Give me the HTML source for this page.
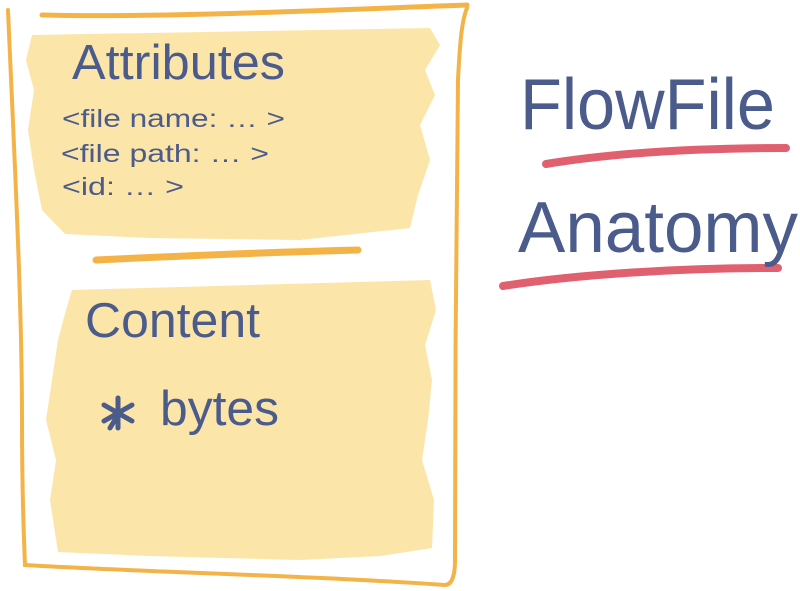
<!DOCTYPE html>
<html><head><meta charset="utf-8"><style>
html,body{margin:0;padding:0;background:#fff;width:800px;height:591px;overflow:hidden}
svg{display:block}
text{font-family:"Liberation Sans",sans-serif;fill:#4a5b8c}
</style></head><body>
<svg width="800" height="591" viewBox="0 0 800 591" xmlns="http://www.w3.org/2000/svg">
<!-- yellow fills -->
<path d="M32,35 L430,28 L440,45 L425,70 L435,95 L420,125 L430,160 L418,195 L410,228 L300,240 L150,238 L65,234 L42,210 L34,170 L28,130 L34,90 L26,60 Z" fill="#fce5a8"/>
<path d="M72,290 L430,280 L436,310 L425,345 L432,380 L428,420 L422,460 L434,500 L432,548 L380,556 L300,560 L150,556 L58,552 L50,500 L56,460 L46,420 L52,380 L58,340 L66,310 Z" fill="#fce5a8"/>
<!-- paper outline -->
<path d="M8,10 C14,150 22,300 22,420 C22,500 24,540 25,565 C140,572 300,575 445,585 C452,585 455,575 455,560 C455,420 456,200 458,80 C460,40 462,20 467,8" fill="none" stroke="#f4b347" stroke-width="4" stroke-linecap="round"/>
<path d="M42,15 C160,18 330,10 467,5" fill="none" stroke="#f4b347" stroke-width="5" stroke-linecap="round"/>
<path d="M96,260 C180,256 280,252 358,250" fill="none" stroke="#f4b347" stroke-width="7" stroke-linecap="round"/>
<!-- red underlines -->
<path d="M546,164 C620,152 700,148 786,148" fill="none" stroke="#e0606f" stroke-width="8" stroke-linecap="round"/>
<path d="M503,286 C580,274 680,268 778,268" fill="none" stroke="#e0606f" stroke-width="8" stroke-linecap="round"/>
<!-- text -->
<text x="72" y="79" font-size="49" textLength="213" lengthAdjust="spacingAndGlyphs">Attributes</text>
<text x="62" y="127" font-size="25" textLength="223" lengthAdjust="spacingAndGlyphs">&lt;file name: … &gt;</text>
<text x="61" y="162" font-size="25" textLength="208" lengthAdjust="spacingAndGlyphs">&lt;file path: … &gt;</text>
<text x="62" y="195" font-size="25" textLength="122" lengthAdjust="spacingAndGlyphs">&lt;id: … &gt;</text>
<text x="85" y="337" font-size="49" textLength="175" lengthAdjust="spacingAndGlyphs">Content</text>
<text x="160" y="425" font-size="49" textLength="119" lengthAdjust="spacingAndGlyphs">bytes</text>
<g stroke="#4a5b8c" stroke-width="5" stroke-linecap="round">
<line x1="118" y1="398" x2="118" y2="428"/>
<line x1="104" y1="405" x2="132" y2="421"/>
<line x1="104" y1="421" x2="132" y2="405"/>
<line x1="110" y1="428" x2="116" y2="418"/>
</g>
<text x="520" y="129" font-size="72" textLength="255" lengthAdjust="spacingAndGlyphs">FlowFile</text>
<text x="518" y="252" font-size="72" textLength="280" lengthAdjust="spacingAndGlyphs">Anatomy</text>
</svg>
</body></html>
